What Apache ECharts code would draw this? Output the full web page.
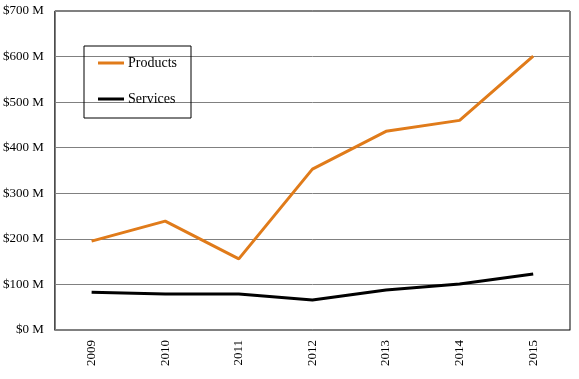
<!DOCTYPE html>
<html><head><meta charset="utf-8">
<script src="https://cdn.jsdelivr.net/npm/echarts@6/dist/echarts.min.js"></script>
<style>html,body{margin:0;padding:0;background:#fff}#c{width:579px;height:379px}</style>
</head><body><div id="c"></div>
<script>
const categories = ['2009','2010','2011','2012','2013','2014','2015'];
const products = [195, 239, 156, 353, 436, 460, 601];
const services = [83, 79, 79, 66, 88, 101, 123];
const yTicks = [0,100,200,300,400,500,600,700];

const chart = echarts.init(document.getElementById('c'));
const font = 'Liberation Serif';
chart.setOption({
  animation: false,
  backgroundColor: '#fff',
  grid: {left: 53, right: 9, top: 11, bottom: 49, show: true, borderColor: '#000', borderWidth: 1, containLabel: false},
  legend: {
    left: 84, top: 46, orient: 'vertical',
    padding: [10, 14, 12, 14], itemGap: 22,
    borderColor: '#000', borderWidth: 1,
    icon: 'rect', itemWidth: 26, itemHeight: 3,
    textStyle: {fontFamily: font, fontSize: 14, color: '#000', padding: [0,0,0,-1]},
    data: ['Products','Services']
  },
  xAxis: {
    type: 'category', data: categories, boundaryGap: true,
    axisLine: {lineStyle: {color: '#808080'}},
    axisTick: {show: false},
    axisLabel: {rotate: 90, fontFamily: font, fontSize: 13, color: '#000', margin: 10}
  },
  yAxis: {
    type: 'value', min: 0, max: 700, interval: 100,
    axisLine: {show: true, lineStyle: {color: '#808080'}},
    axisTick: {show: false},
    splitLine: {lineStyle: {color: '#808080'}},
    axisLabel: {fontFamily: font, fontSize: 13, color: '#000', margin: 11,
      formatter: v => yTicks.includes(v) ? '$' + v + ' M' : ''}
  },
  series: [
    {name: 'Products', type: 'line', data: products, symbol: 'none', lineStyle: {color: '#E07B1A', width: 3}, itemStyle: {color: '#E07B1A'}},
    {name: 'Services', type: 'line', data: services, symbol: 'none', lineStyle: {color: '#000', width: 3}, itemStyle: {color: '#000'}}
  ]
});
</script></body></html>
